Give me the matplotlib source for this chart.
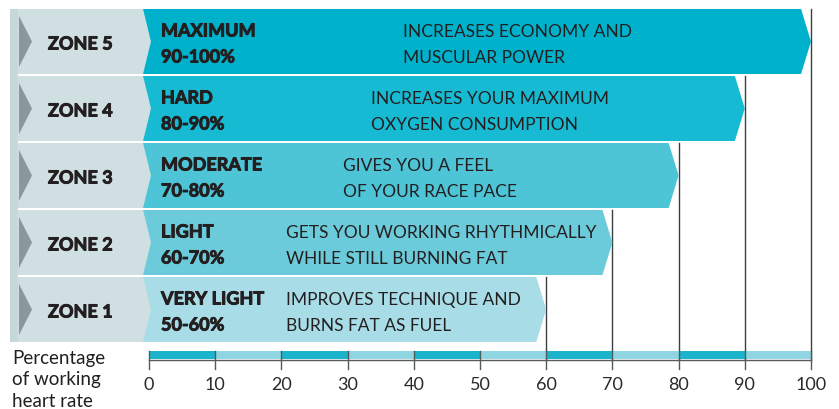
import matplotlib
matplotlib.use("Agg")
import matplotlib.pyplot as plt
import matplotlib.patheffects as pe
from matplotlib.patches import Polygon, Rectangle

plt.rcParams['font.family'] = ['Lato', 'DejaVu Sans']

# Training zones, top to bottom
zones = ["ZONE 5", "ZONE 4", "ZONE 3", "ZONE 2", "ZONE 1"]
intensity = ["MAXIMUM", "HARD", "MODERATE", "LIGHT", "VERY LIGHT"]
low = [90, 80, 70, 60, 50]
high = [100, 90, 80, 70, 60]
benefit = [
    ["INCREASES ECONOMY AND", "MUSCULAR POWER"],
    ["INCREASES YOUR MAXIMUM", "OXYGEN CONSUMPTION"],
    ["GIVES YOU A FEEL", "OF YOUR RACE PACE"],
    ["GETS YOU WORKING RHYTHMICALLY", "WHILE STILL BURNING FAT"],
    ["IMPROVES TECHNIQUE AND", "BURNS FAT AS FUEL"],
]
ticks = [0, 10, 20, 30, 40, 50, 60, 70, 80, 90, 100]
axis_title = "Percentage\nof working\nheart rate"

# Styling / layout
bar_colors = ["#00b1cc", "#16bbd3", "#4ec4d7", "#6ccbda", "#a8dce7"]
label_bg = "#d0dfe2"
edge_strip = "#c6d8dc"
arrow_col = "#8a989c"
text_col = "#231f20"
line_col = "#3a3f42"
desc_x = [38.4, 33.5, 29.3, 20.7, 20.7]

W, H = 839, 410
px0, px100 = 149.0, 811.0
scale = (px100 - px0) / 100.0

def px(v):
    return (v - px0) / scale

fig = plt.figure(figsize=(W / 100, H / 100), dpi=100)
ax = fig.add_axes([0, 0, 1, 1])
ax.set_xlim(px(0), px(W))
ax.set_ylim(H, 0)
ax.axis("off")

row_top0, pitch, row_h = 10, 67, 65
panel_bottom = row_top0 + pitch * (len(zones) - 1) + row_h

# left edge strip of the label column
ax.add_patch(Rectangle((px(10), row_top0), px(18) - px(10), panel_bottom - row_top0,
                       facecolor=edge_strip, edgecolor="none", zorder=1))

tip = 1.5  # arrow head length in % units
heavy = [pe.withStroke(linewidth=0.7, foreground=text_col)]
bold_kw = dict(fontsize=13, fontweight="bold", color=text_col, zorder=3,
               va="center_baseline", ha="left", path_effects=heavy)
reg_kw = dict(fontsize=12.5, color=text_col, zorder=3, va="center_baseline", ha="left")
for i, z in enumerate(zones):
    top = row_top0 + pitch * i
    bot = top + row_h
    mid = (top + bot) / 2
    # grey label cell
    ax.add_patch(Rectangle((px(18), top), px(152) - px(18), row_h,
                           facecolor=label_bg, edgecolor="none", zorder=1))
    # small dark triangle
    ax.add_patch(Polygon([(px(19), top + 7), (px(32), mid), (px(19), bot - 7)],
                         closed=True, facecolor=arrow_col, edgecolor="none", zorder=2))
    # coloured zone arrow from 0 to the zone's upper bound
    end = high[i]
    ax.add_patch(Polygon([(-0.9, top), (end - tip, top), (end, mid), (end - tip, bot),
                          (-0.9, bot), (0.3, mid)],
                         closed=True, facecolor=bar_colors[i], edgecolor="none", zorder=2))
    # reference line at upper bound
    ax.plot([end, end], [top, 361], color=line_col, lw=1.0, zorder=1)

    ax.text(px(48), mid + 1, z, **bold_kw)
    ax.text(px(161), mid - 12, intensity[i], **bold_kw)
    ax.text(px(161), mid + 14, f"{low[i]}-{high[i]}%", **bold_kw)
    ax.text(desc_x[i], mid - 12, benefit[i][0], **reg_kw)
    ax.text(desc_x[i], mid + 14, benefit[i][1], **reg_kw)

# striped scale band
for a, b in zip(ticks[:-1], ticks[1:]):
    c = "#1bb4cc" if (a // 10) % 2 == 0 else "#8fd5e2"
    ax.add_patch(Rectangle((a, 352), b - a, 8, facecolor=c, edgecolor="none", zorder=2))
ax.plot([ticks[0], ticks[-1]], [361, 361], color="#555a5d", lw=1.0, zorder=3)
for t in ticks:
    ax.plot([t, t], [352, 370], color="#555a5d", lw=1.0, zorder=3)
    ax.text(t, 384, str(t), ha="center", va="center_baseline", fontsize=13,
            color="#2a2a2a")

ax.text(px(12), 380, axis_title, ha="left", va="center", fontsize=13.5,
        color=text_col, linespacing=1.32)

fig.savefig("out.png", dpi=100, facecolor="white")
